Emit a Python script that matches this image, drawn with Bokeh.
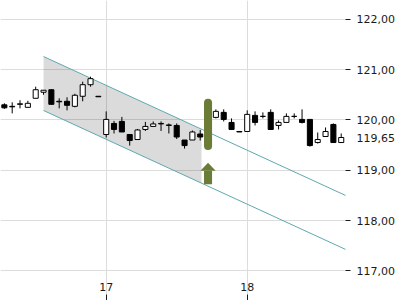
from bokeh.plotting import figure
from bokeh.models import FixedTicker, CustomJSTickFormatter, LinearAxis, Range1d, ColumnDataSource
from bokeh.embed import file_html
from bokeh.resources import INLINE

# ---- data -------------------------------------------------------------
day_start = 16
slots_per_day = 18
first_slot = 5
opens  = [120.30, 120.27, 120.31, 120.25, 120.43, 120.55, 120.60, 120.37, 120.37, 120.27,
          120.47, 120.70, 120.47, 119.71, 119.93, 119.97, 119.71, 119.61, 119.81, 119.87,
          119.92, 119.89, 119.89, 119.60, 119.60, 119.72, 119.71, 120.05, 120.15, 119.95,
          119.77, 119.77, 120.09, 120.07, 120.15, 119.89, 119.95, 120.07, 120.01, 120.01,
          119.55, 119.67, 119.91, 119.55]
highs  = [120.33, 120.35, 120.39, 120.38, 120.66, 120.59, 120.61, 120.43, 120.45, 120.52,
          120.76, 120.86, 120.47, 120.17, 119.98, 120.06, 119.71, 119.82, 119.96, 119.97,
          119.97, 119.93, 119.93, 119.60, 119.79, 119.80, 120.13, 120.21, 120.21, 120.03,
          119.77, 120.19, 120.17, 120.15, 120.21, 119.99, 120.13, 120.13, 120.21, 120.01,
          119.75, 119.85, 119.93, 119.73]
lows   = [120.22, 120.13, 120.23, 120.25, 120.43, 120.50, 120.30, 120.23, 120.19, 120.25,
          120.37, 120.66, 120.46, 119.65, 119.73, 119.76, 119.49, 119.61, 119.78, 119.87,
          119.78, 119.73, 119.62, 119.43, 119.60, 119.59, 119.71, 120.03, 119.97, 119.81,
          119.76, 119.77, 119.89, 120.03, 119.81, 119.81, 119.95, 120.03, 119.93, 119.47,
          119.53, 119.67, 119.55, 119.55]
closes = [120.24, 120.26, 120.32, 120.33, 120.60, 120.59, 120.31, 120.36, 120.29, 120.49,
          120.70, 120.82, 120.46, 120.01, 119.81, 119.76, 119.59, 119.80, 119.87, 119.92,
          119.93, 119.90, 119.66, 119.49, 119.76, 119.66, 120.05, 120.17, 120.01, 119.81,
          119.76, 120.11, 119.95, 120.07, 119.81, 119.95, 120.07, 120.07, 119.95, 119.49,
          119.61, 119.77, 119.55, 119.65]

x_ticks = [17, 18]
y_ticks = [117, 118, 119, 120, 121, 122]
last_price = 119.65

chan_x = [16.5556, 18.70]
chan_upper = [121.26, 118.495]
chan_lower = [120.187, 117.422]
shade_x = [16.5556, 17.676]
shade_upper = [121.26, 119.815]
shade_lower = [120.187, 118.742]

signal_x = 17.7222
signal_bar = [119.40, 120.42]
arrow_tip = 119.15
arrow_base = 118.99
arrow_tail = 118.72

# ---- derived ------------------------------------------------------------
times = [day_start + (first_slot + i) / slots_per_day for i in range(len(opens))]
tops = [max(o, c) for o, c in zip(opens, closes)]
bots = [min(o, c) for o, c in zip(opens, closes)]
fills = ["white" if c >= o else "black" for o, c in zip(opens, closes)]
src = ColumnDataSource(dict(t=times, o=opens, h=highs, l=lows, c=closes,
                            top=tops, bot=bots, fill=fills))

FONT = "DejaVu Sans"
TXT = "#1a1a1a"
GREEN = "#6a7c36"
TEAL = "#5ea8b0"

p = figure(width=400, height=300, output_backend="svg", toolbar_location=None,
           x_range=Range1d(16.2504, 18.697), y_range=Range1d(116.529, 122.374),
           y_axis_location="right", min_border_left=0, min_border_top=0,
           min_border_bottom=6, min_border_right=55)
p.outline_line_color = None
p.background_fill_color = "white"

# right axis 1: tick marks only
tick_ticker = FixedTicker(ticks=y_ticks)
p.yaxis.ticker = tick_ticker
p.yaxis.formatter = CustomJSTickFormatter(code="return '';")
p.yaxis.axis_line_color = None
p.yaxis.major_tick_out = 5
p.yaxis.major_tick_in = 0
p.yaxis.minor_tick_line_color = None
p.yaxis.major_tick_line_color = TXT
p.yaxis.major_label_standoff = 0
p.yaxis.major_label_text_font_size = "1px"

# right axis 2: labels (incl. last price) without tick marks
label_axis = LinearAxis(ticker=FixedTicker(ticks=y_ticks + [last_price]),
                        formatter=CustomJSTickFormatter(code="return tick.toFixed(2).replace('.', ',');"),
                        axis_line_color=None, major_tick_line_color=None,
                        minor_tick_line_color=None, major_tick_out=0, major_tick_in=0,
                        major_label_standoff=6, major_label_text_font=FONT,
                        major_label_text_font_size="11px", major_label_text_color=TXT)
p.add_layout(label_axis, "right")

p.xaxis.ticker = FixedTicker(ticks=x_ticks)
p.xaxis.axis_line_color = None
p.xaxis.major_tick_out = 6
p.xaxis.major_tick_in = 0
p.xaxis.minor_tick_line_color = None
p.xaxis.major_tick_line_color = TXT
p.xaxis.major_label_standoff = -18
p.xaxis.major_label_text_font = FONT
p.xaxis.major_label_text_font_size = "11px"
p.xaxis.major_label_text_color = TXT

p.xgrid.grid_line_color = "#dcdcdc"
p.ygrid.grid_line_color = "#dcdcdc"
p.ygrid.ticker = tick_ticker

# channel
p.patch(shade_x + shade_x[::-1], shade_upper + shade_lower[::-1],
        fill_color="black", fill_alpha=0.14, line_color=None)
p.line(chan_x, chan_upper, line_color=TEAL, line_width=1)
p.line(chan_x, chan_lower, line_color=TEAL, line_width=1)

# candles
body_w = 0.036
p.segment(x0="t", y0="l", x1="t", y1="h", source=src, line_color="black", line_width=1)
p.vbar(x="t", top="top", bottom="bot", width=body_w, source=src,
       fill_color="fill", line_color="black", line_width=1)

# signal marker
p.vbar(x=[signal_x], bottom=[signal_bar[0]], top=[signal_bar[1]], width=0.057,
       fill_color=GREEN, line_color=None, border_radius=4)
p.vbar(x=[signal_x], bottom=[arrow_tail], top=[arrow_base], width=0.057,
       fill_color=GREEN, line_color=None)
hw = 0.054
p.patch([signal_x - hw, signal_x, signal_x + hw], [arrow_base, arrow_tip, arrow_base],
        fill_color=GREEN, line_color=None)

open("out.html", "w").write(file_html(p, INLINE))
